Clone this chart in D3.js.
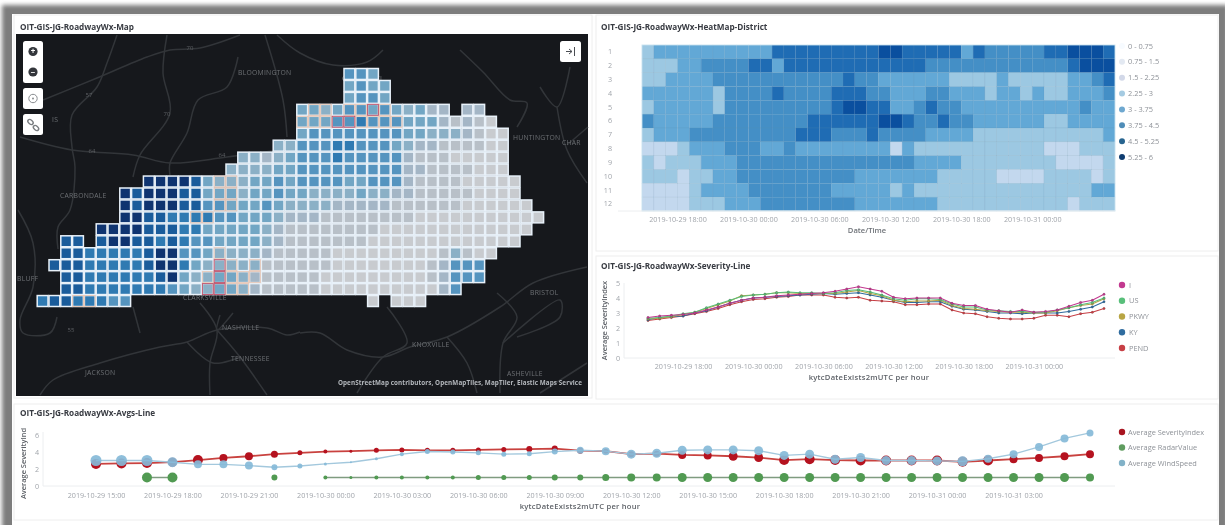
<!DOCTYPE html>
<html><head><meta charset="utf-8">
<script src="https://cdn.jsdelivr.net/npm/d3@7"></script>
<style>
html,body{margin:0;padding:0;background:#fff;overflow:hidden}
svg{display:block;filter:blur(0.75px)}
text{font-family:"Open Sans",sans-serif}
.tick line,.domain{display:none}
</style></head><body>
<svg id="c" width="1225" height="525"></svg>
<script>
// ---------- data ----------
const hours = 40;
const startTime = Date.UTC(2019, 9, 29, 15);
const panelTitles = ["OIT-GIS-JG-RoadwayWx-Map","OIT-GIS-JG-RoadwayWx-HeatMap-District","OIT-GIS-JG-RoadwayWx-Severity-Line","OIT-GIS-JG-RoadwayWx-Avgs-Line"];

// map grid: severity class per cell, first column of each row
const mapStart = [26,26,26,22,22,22,20,17,16,9,7,7,7,5,2,2,1,2,2,0];
const mapCells = [
"554","4544","4554",
"4434554543422.22",
"44455655544421210",
"455555555443332100",
"33555665554322111100",
"33234555655555211100000",
"333344555555555221111000",
"88887433344545555445552111100000",
"8788877444344544333343322111110000",
"87888775544454333322222111111000000",
"88776666554443222"+"1111111100000000000",
"8888777664444432"+"111111110000000000000",
"77.7887767655444432"+"11111110000000000000",
"7766666788554333321"+"11110000000001"+"3100",
"77766666788643333311"+"11110000000012"+"555",
"7766666678433443211"+"11100000000012"+"555",
"7766666665433443211"+"11100000000002"+"5",
"67766655....................0.000"
];
// extra outlined cells over the map: [col,row,level]
const hotCells = [[28,3,2],[25,4,2],[26,4,2],[27,3,1],[23,3,1],[24,4,1],[22,4,1],[23,4,1],[27,4,1],[28,4,1],[29,4,1],[30,4,1],[24,3,1],[26,3,1],[29,3,1],
[15,15,1],[15,16,2],[15,17,2],[14,18,2],[15,18,2],[16,18,1],[17,17,1],[17,18,1],[14,17,1],[16,16,1],[16,17,1],[18,16,1],[18,17,1],
[15,9,1],[16,9,1],[15,10,1],[16,10,1],[15,11,1],[16,11,1],[13,12,1],[14,12,1],[3,19,1],[4,19,1]];
const mapColors = ["#c8cbcf","#b8c0c8","#a4b6c6","#8bb0c6","#72a6c4","#5594bf","#2f7ab2","#1a5c9b","#0f3470"];

const roads = [
[[27,66],[81,44],[131,23],[154,16],[184,14],[224,1]],
[[101,1],[91,29],[81,53],[56,81],[56,113],[59,133],[54,176],[42,193],[42,215]],
[[4,103],[56,116],[117,121],[154,129],[211,123],[264,116]],
[[151,1],[147,39],[154,79],[124,121],[117,143]],
[[222,23],[211,53],[182,66],[171,99],[154,129],[154,141]],
[[249,1],[267,66],[271,103]],
[[261,1],[284,19],[317,31],[351,28],[367,16]],
[[444,16],[467,38],[494,66],[511,69],[501,93]],
[[524,53],[541,73],[554,33]],
[[541,73],[551,116],[571,149]],
[[551,111],[572,93]],
[[24,361],[37,346],[84,329],[144,313],[171,308],[201,296],[251,294],[271,301],[284,298]],
[[184,269],[201,296],[194,329],[194,361]],
[[201,296],[224,323],[251,361]],
[[171,308],[197,329],[224,323]],
[[204,281],[201,296],[217,279]],
[[2,176],[17,209],[17,253],[4,286],[7,299],[34,299],[41,283]],
[[117,273],[124,299]],
[[284,299],[304,299],[331,316],[367,323],[394,313],[431,303],[484,273],[517,249],[571,233]],
[[371,273],[391,309],[367,323],[341,359]],
[[431,303],[451,329],[461,359]],
[[481,259],[501,283],[487,309],[484,359]],
[[501,303],[544,283],[544,266],[487,309]],
[[524,359],[571,329]]
];
const placeNames = ["BLOOMINGTON","CINCINNATI","HUNTINGTON","CHAR","CARBONDALE","CLARKSVILLE","NASHVILLE","TENNESSEE","JACKSON","KNOXVILLE","BRISTOL","ASHEVILLE","BLUFF","IS"];
const placeAt = [[222,41],[326,47],[497,106],[546,111],[44,164],[167,266],[206,296],[215,327],[69,341],[396,313],[514,261],[491,342],[1,247],[36,88]];
const roadNames = ["70","57","70","64","64","55"];
const roadNameAt = [[174,16],[73,63],[151,82],[76,119],[206,123],[55,298]];
const attribution = "OpenStreetMap contributors, OpenMapTiles, MapTiler, Elastic Maps Service";

// heat map: severity bin per row and hour
const heatRows = [
"3 4444444444 666666666 77 66666 4 6 55555 66 777 6",
"333 44 5555 66 4 666666666666 555555555555 6 777",
"33 4444 55555555555 6 55 444444 3333 4 33333 44 5 6",
"444444 3 5555 6 5555 666 55 444 55 444 3 44 3 4 33 444 5",
"3 44444 3 555555555 6 77 66 44 5 6 55 4444444444 5 44",
"5 44444 55555555 666666 77 6 55 6 55 444444 33 4444",
"3 444 555555555 666 555 6 5555 4444 33333333333 4",
"222 3 444 555 44 5 44444444 2 4 33333333333 222 333",
"3 2 333 444 555555555555555 4444 33333333 2222 3",
"333 2 33 44 5555555555 4444444 33333 2222 3333 2 3",
"2222 3 4444 5555555 44444 3 4 333333333333333 44",
"2222 333 444 55555555 4444444 33333333333 2 333"
];
const heatLabels = ["1","2","3","4","5","6","7","8","9","10","11","12"];
const heatColors = ["#f7fbff","#dfeaf6","#c3d8ee","#9cc8e2","#62a8d6","#448fc6","#1f6cb4","#0a4f9f"];
const heatLegend = ["0 - 0.75","0.75 - 1.5","1.5 - 2.25","2.25 - 3","3 - 3.75","3.75 - 4.5","4.5 - 5.25","5.25 - 6"];
const heatLegendColors = ["#f7fbff","#e3e9f2","#d2d8e8","#a5cbe2","#6ea8d0","#4f8db8","#27648f","#0f3c70"];

// severity per road class
const sevNames = ["I","US","PKWY","KY","PEND"];
const sevColors = ["#c2398f","#58bf7a","#b8a544","#2f6c9f","#c73f45"];
const sevI = [2.7,2.8,2.85,2.9,3.0,3.2,3.4,3.65,3.85,4.0,4.05,4.15,4.2,4.25,4.3,4.35,4.45,4.6,4.75,4.6,4.45,4.05,3.95,4.0,4.0,4.0,3.65,3.5,3.5,3.25,3.15,3.05,3.2,3.05,3.1,3.2,3.45,3.7,3.85,4.25];
const sevUS = [2.65,2.7,2.8,2.95,3.05,3.35,3.6,3.85,4.1,4.2,4.25,4.35,4.4,4.35,4.35,4.3,4.35,4.5,4.55,4.4,4.2,3.95,3.85,3.95,3.95,3.9,3.6,3.4,3.4,3.2,3.15,3.1,3.1,3.05,3.05,3.2,3.35,3.55,3.7,4.0];
const sevPKWY = [2.6,2.65,2.75,2.9,3.05,3.3,3.55,3.8,4.15,4.2,4.25,4.35,4.35,4.3,4.3,4.3,4.3,4.4,4.5,4.3,4.15,3.85,3.75,3.8,3.8,3.85,3.5,3.3,3.25,3.15,3.1,3.05,3.05,3.0,3.0,3.15,3.35,3.5,3.6,3.95];
const sevKY = [2.55,2.7,2.75,2.8,3.0,3.15,3.4,3.65,3.85,4.0,4.05,4.1,4.15,4.2,4.25,4.3,4.25,4.3,4.35,4.2,4.05,3.85,3.7,3.7,3.75,3.75,3.45,3.25,3.2,3.1,3.0,3.0,2.95,3.0,3.0,3.0,3.1,3.25,3.4,3.75];
const sevPEND = [2.5,2.6,2.7,2.8,2.95,3.1,3.3,3.55,3.75,3.9,3.95,4.05,4.1,4.2,4.2,4.2,4.05,4.0,4.05,3.85,3.8,3.75,3.55,3.55,3.6,3.6,3.2,3.0,2.95,2.75,2.65,2.6,2.6,2.65,2.85,2.85,2.75,2.95,3.05,3.3];
const sevSeries = [sevPEND,sevKY,sevPKWY,sevUS,sevI];
const sevOrder = [4,3,2,1,0];
const sevTicks = [0,1,2,3,4,5];

// averages
const avgNames = ["Average SeverityIndex","Average RadarValue","Average WindSpeed"];
const avgColors = ["#b5121f","#519a52","#85bad8"];
const avgLegendColors = ["#a8141f","#5f9c5f","#82b2c8"];
const avgSeverity = [2.6,2.65,2.7,2.8,3.05,3.3,3.5,3.75,3.9,4.05,4.1,4.2,4.25,4.2,4.2,4.25,4.3,4.35,4.4,4.15,4.1,3.75,3.8,3.65,3.6,3.5,3.35,3.05,3.15,3.05,3.0,3.0,3.0,3.0,2.85,3.0,3.15,3.3,3.5,3.75];
const avgRadar = [null,null,1,1,null,null,null,1,null,1,1,1,1,1,1,1,1,1,1,1,1,1,1,1,1,1,1,1,1,1,1,1,1,1,1,1,1,1,1,1];
const avgWind = [3.0,3.0,3.0,2.8,2.55,2.55,2.4,2.2,2.35,2.6,2.8,3.2,3.75,4.05,4.0,3.9,3.75,3.8,4.05,4.2,4.1,3.75,3.85,4.2,4.25,4.25,4.15,3.6,3.75,3.15,3.35,3.0,3.0,2.95,2.9,3.2,3.75,4.6,5.6,6.25];
const sizeSeverity = [5,5,5,4.5,5,4,4,3.5,2.5,2,1.5,2.5,2.5,2.5,2.5,2.5,2.5,3,3,3,2.5,3,3,4,4,4.5,4.5,5,5,5,5,5,5,5,5,5,4,4,4,4];
const sizeRadar = [0,0,5,5,0,0,0,3,0,2,1.5,2,2,2,2,2.5,2.5,2.5,3,3,3.5,4,4,4.5,4.5,4.5,4.5,4.5,4.5,4.5,4.5,4.5,4.5,4.5,4.5,4.5,4.5,4.5,4.5,4];
const sizeWind = [5.5,5.5,5.5,5,4,4,4,3,2.5,1.5,1,1.5,2,2.5,2.5,2.5,2.5,2.5,3,3.5,4,4.5,4.5,4.5,4.5,4.5,4.5,4.5,4.5,4.5,4.5,4.5,4.5,4.5,5,4,4,4,4,3.5];
const avgTicks = [0,2,4,6];
const avgXLabelHours = [0,3,6,9,12,15,18,21,24,27,30,33,36];
const sixHourTicks = [3,9,15,21,27,33];

// ---------- drawing ----------
const svg = d3.select("#c");
const defs = svg.append("defs");
defs.append("filter").attr("id","soft").attr("x","-5%").attr("y","-5%").attr("width","110%").attr("height","110%")
  .append("feGaussianBlur").attr("stdDeviation",2.2);
const hourT = h => new Date(startTime + h*3600e3);
const fmt = d3.utcFormat("%Y-%m-%d %H:%M");
const tickGrey = "#a1a5ab", axisGrey = "#eceef0";

// frame and panels
svg.append("rect").attr("x",2).attr("y",5).attr("width",1226).attr("height",560).attr("fill","#7d7d7d").attr("filter","url(#soft)");
svg.append("rect").attr("x",12).attr("y",14).attr("width",1207).attr("height",511).attr("fill","#fff");
const panels = [[14,15,578,383],[596,15,622,236],[596,256,622,143],[14,404,1204,116]];
svg.selectAll(".panel").data(panels).join("rect").attr("x",d=>d[0]).attr("y",d=>d[1]).attr("width",d=>d[2]).attr("height",d=>d[3]).attr("fill","#fff").attr("stroke","#eeeeee");
const titleAt = [[20,30],[601,30],[601,269],[20,416]];
svg.selectAll(".ttl").data(panelTitles).join("text").attr("x",(d,i)=>titleAt[i][0]).attr("y",(d,i)=>titleAt[i][1])
  .attr("font-size",8.2).attr("font-weight",700).attr("fill","#383b42").text(d=>d);

// ---- map ----
const mapG = svg.append("g");
const mx = d3.scaleLinear().domain([0,572]).range([16,588]);
const my = d3.scaleLinear().domain([0,362]).range([34,396]);
mapG.append("rect").attr("x",mx(0)).attr("y",my(0)).attr("width",mx(572)-mx(0)).attr("height",my(362)-my(0)).attr("fill","#16181c");
const roadLine = d3.line().x(d=>mx(d[0])).y(d=>my(d[1])).curve(d3.curveCatmullRom.alpha(0.5));
mapG.selectAll(".road").data(roads).join("path").attr("d",roadLine).attr("fill","none").attr("stroke","#323539").attr("stroke-width",1.5);
mapG.selectAll(".place").data(placeNames).join("text").attr("x",(d,i)=>mx(placeAt[i][0])).attr("y",(d,i)=>my(placeAt[i][1]))
  .attr("font-size",6.8).attr("letter-spacing",.25).attr("fill","#6d7074").text(d=>d);
mapG.selectAll(".rn").data(roadNames).join("text").attr("x",(d,i)=>mx(roadNameAt[i][0])).attr("y",(d,i)=>my(roadNameAt[i][1]))
  .attr("font-size",6).attr("fill","#5c5f63").attr("text-anchor","middle").text(d=>d);

const cx = d3.scaleLinear().domain([0,1]).range([36.7,48.5]);
const cy = d3.scaleLinear().domain([0,1]).range([68,79.95]);
const cellData = [];
mapCells.forEach((s,r)=>{ Array.from(s).forEach((ch,i)=>{ if(ch!=="." ) cellData.push({r,c:mapStart[r]+i,v:+ch}); }); });
mapG.selectAll(".cell").data(cellData).join("rect")
  .attr("x",d=>cx(d.c)+.5).attr("y",d=>cy(d.r)+.5).attr("width",10.8).attr("height",10.95)
  .attr("fill",d=>mapColors[d.v]).attr("stroke","#e8f1f9").attr("stroke-width",1.5);
mapG.selectAll(".hot").data(hotCells.slice().sort((a,b)=>a[2]-b[2])).join("rect")
  .attr("x",d=>cx(d[0])+.5).attr("y",d=>cy(d[1])+.5).attr("width",10.8).attr("height",10.95).attr("fill","none")
  .attr("stroke",d=>d[2]===2?"#b73a55":"#e8a27a").attr("stroke-width",1).attr("stroke-opacity",d=>d[2]===2?.85:.5);

// controls
const ctl = mapG.append("g");
[[23,41,20,42],[23,88,20,21],[23,114,20,21],[560,41,21,21]].forEach(b=>{
  ctl.append("rect").attr("x",b[0]).attr("y",b[1]).attr("width",b[2]).attr("height",b[3]).attr("rx",2.5).attr("fill","#fff");
});
[[33,51.5,"+"],[33,72,"−"]].forEach(b=>{
  ctl.append("circle").attr("cx",b[0]).attr("cy",b[1]).attr("r",4.6).attr("fill","#33363b");
  ctl.append("text").attr("x",b[0]).attr("y",b[1]+2.6).attr("text-anchor","middle").attr("font-size",8).attr("font-weight",700).attr("fill","#fff").text(b[2]);
});
ctl.append("circle").attr("cx",33).attr("cy",98.5).attr("r",4.2).attr("fill","none").attr("stroke","#8a8d91").attr("stroke-width",1);
ctl.append("circle").attr("cx",33).attr("cy",98.5).attr("r",1).attr("fill","#8a8d91");
ctl.append("ellipse").attr("cx",30.5).attr("cy",122).attr("rx",3).attr("ry",2).attr("fill","none").attr("stroke","#7a7d81").attr("stroke-width",1.4).attr("transform","rotate(40 30.5 122)");
ctl.append("ellipse").attr("cx",36).attr("cy",128).attr("rx",3).attr("ry",2).attr("fill","none").attr("stroke","#7a7d81").attr("stroke-width",1.4).attr("transform","rotate(40 36 128)");
ctl.append("path").attr("d","M566 51.5h6M569 49l3 2.5-3 2.5M574.5 47v9").attr("fill","none").attr("stroke","#4a4d52").attr("stroke-width",1);
mapG.append("text").attr("x",mx(566)).attr("y",my(351)).attr("text-anchor","end").attr("font-size",6.3).attr("font-weight",700).attr("fill","#b4b8bd").attr("letter-spacing",.1).text(attribution);

// ---- heat map ----
const heatG = svg.append("g");
const hx = d3.scaleUtc().domain([hourT(0),hourT(hours)]).range([642,1115]);
const hy = d3.scaleBand().domain(heatLabels).range([45,211]);
const heatData = [];
heatRows.forEach((s,r)=>{ Array.from(s.replace(/ /g,"")).forEach((ch,h)=>heatData.push({r:heatLabels[r],h,v:+ch})); });
heatG.selectAll(".h").data(heatData).join("rect")
  .attr("x",d=>hx(hourT(d.h))).attr("y",d=>hy(d.r)).attr("width",d=>hx(hourT(d.h+1))-hx(hourT(d.h))).attr("height",hy.bandwidth())
  .attr("fill",d=>heatColors[d.v]).attr("stroke","#5f8fb5").attr("stroke-opacity",.25).attr("stroke-width",.5);
heatG.append("rect").attr("x",642).attr("y",45).attr("width",473).attr("height",166).attr("fill","none").attr("stroke","#cfe8f5").attr("stroke-width",.8);
heatG.append("line").attr("x1",618).attr("x2",1115).attr("y1",211).attr("y2",211).attr("stroke",axisGrey);
const axH = heatG.append("g").attr("transform","translate(0,211)").call(d3.axisBottom(hx).tickValues(sixHourTicks.map(hourT)).tickFormat(fmt).tickSize(0).tickPadding(6));
axH.selectAll("text").attr("font-size",7.2).attr("fill",tickGrey);
const ayH = heatG.append("g").attr("transform","translate(612,0)").call(d3.axisLeft(hy).tickSize(0).tickPadding(0));
ayH.selectAll("text").attr("font-size",7.2).attr("fill",tickGrey);
heatG.append("text").attr("x",867).attr("y",233).attr("text-anchor","middle").attr("font-size",7.6).attr("font-weight",600).attr("fill","#6e7278").text("Date/Time");
const hl = d3.scaleLinear().domain([0,7]).range([46,157]);
heatG.selectAll(".ld").data(heatLegend).join("circle").attr("cx",1122).attr("cy",(d,i)=>hl(i)).attr("r",3).attr("fill",(d,i)=>heatLegendColors[i]);
heatG.selectAll(".lt").data(heatLegend).join("text").attr("x",1128).attr("y",(d,i)=>hl(i)+2.6).attr("font-size",7.4).attr("fill","#8e9298").text(d=>d);

// ---- severity lines ----
const sevG = svg.append("g");
const sx = d3.scaleUtc().domain([hourT(0),hourT(39)]).range([648,1104]);
const sy = d3.scaleLinear().domain([0,5]).range([358,283]);
sevG.append("line").attr("x1",624).attr("x2",1115).attr("y1",358).attr("y2",358).attr("stroke",axisGrey);
sevG.append("line").attr("x1",624).attr("x2",624).attr("y1",283).attr("y2",358).attr("stroke",axisGrey);
const axS = sevG.append("g").attr("transform","translate(0,358)").call(d3.axisBottom(sx).tickValues(sixHourTicks.map(hourT)).tickFormat(fmt).tickSize(0).tickPadding(6));
axS.selectAll("text").attr("font-size",7.2).attr("fill",tickGrey);
const ayS = sevG.append("g").attr("transform","translate(620,0)").call(d3.axisLeft(sy).tickValues(sevTicks).tickFormat(d3.format("d")).tickSize(0).tickPadding(0));
ayS.selectAll("text").attr("font-size",7.2).attr("fill",tickGrey);
const sevLine = d3.line().x((d,i)=>sx(hourT(i))).y(d=>sy(d));
sevSeries.forEach((vals,k)=>{
  const col = sevColors[sevOrder[k]];
  sevG.append("path").attr("d",sevLine(vals)).attr("fill","none").attr("stroke",col).attr("stroke-width",1.1);
  sevG.selectAll(".s"+k).data(vals).join("circle").attr("cx",(d,i)=>sx(hourT(i))).attr("cy",d=>sy(d)).attr("r",1.2).attr("fill",col).attr("stroke","#333").attr("stroke-opacity",.35).attr("stroke-width",.5);
});
sevG.append("text").attr("transform","translate(607,320.5) rotate(-90)").attr("text-anchor","middle").attr("font-size",7.4).attr("font-weight",600).attr("fill","#5e6268").text("Average SeverityIndex");
sevG.append("text").attr("x",869).attr("y",380).attr("text-anchor","middle").attr("font-size",7.6).attr("font-weight",600).attr("letter-spacing",.25).attr("fill","#5e6268").text("kytcDateExists2mUTC per hour");
const sl = d3.scaleLinear().domain([0,4]).range([285,348]);
sevG.selectAll(".ld").data(sevNames).join("circle").attr("cx",1122).attr("cy",(d,i)=>sl(i)).attr("r",3.2).attr("fill",(d,i)=>sevColors[i]);
sevG.selectAll(".lt").data(sevNames).join("text").attr("x",1129).attr("y",(d,i)=>sl(i)+2.6).attr("font-size",7.4).attr("fill","#8e9298").text(d=>d);

// ---- averages ----
const avgG = svg.append("g");
const ax = d3.scaleUtc().domain([hourT(0),hourT(39)]).range([96,1090]);
const ay = d3.scaleLinear().domain([0,6]).range([486,435]);
avgG.append("line").attr("x1",43).attr("x2",1115).attr("y1",486).attr("y2",486).attr("stroke",axisGrey);
avgG.append("line").attr("x1",43).attr("x2",43).attr("y1",432).attr("y2",486).attr("stroke",axisGrey);
const axA = avgG.append("g").attr("transform","translate(0,486)").call(d3.axisBottom(ax).tickValues(avgXLabelHours.map(hourT)).tickFormat(fmt).tickSize(0).tickPadding(7));
axA.selectAll("text").attr("font-size",7.2).attr("fill",tickGrey);
const ayA = avgG.append("g").attr("transform","translate(39,0)").call(d3.axisLeft(ay).tickValues(avgTicks).tickFormat(d3.format("d")).tickSize(0).tickPadding(0));
ayA.selectAll("text").attr("font-size",7.2).attr("fill",tickGrey);
const avgLine = d3.line().defined(d=>d!==null).x((d,i)=>ax(hourT(i))).y(d=>ay(d));
[[avgRadar,sizeRadar,1,"#7f9c80",1.6],[avgSeverity,sizeSeverity,0,"#c9423f",1.8],[avgWind,sizeWind,2,"#a3c8dd",1.4]].forEach(([vals,sz,k,lc,w])=>{
  avgG.append("path").attr("d",avgLine(vals)).attr("fill","none").attr("stroke",lc).attr("stroke-width",w);
  avgG.selectAll(".a"+k).data(vals.map((v,i)=>({v,i})).filter(d=>d.v!==null)).join("circle")
    .attr("cx",d=>ax(hourT(d.i))).attr("cy",d=>ay(d.v)).attr("r",d=>sz[d.i]).attr("fill",avgColors[k]).attr("fill-opacity",k===2?.92:1);
});
avgG.append("text").attr("transform","translate(26,463.5) rotate(-90)").attr("text-anchor","middle").attr("font-size",7.4).attr("font-weight",600).attr("fill","#5e6268").text("Average SeverityInd");
avgG.append("text").attr("x",580).attr("y",509).attr("text-anchor","middle").attr("font-size",7.6).attr("font-weight",600).attr("letter-spacing",.25).attr("fill","#5e6268").text("kytcDateExists2mUTC per hour");
const al = d3.scaleLinear().domain([0,2]).range([432,463]);
avgG.selectAll(".ld").data(avgNames).join("circle").attr("cx",1122).attr("cy",(d,i)=>al(i)).attr("r",3.2).attr("fill",(d,i)=>avgLegendColors[i]);
avgG.selectAll(".lt").data(avgNames).join("text").attr("x",1128).attr("y",(d,i)=>al(i)+2.6).attr("font-size",7.4).attr("fill","#8e9298").text(d=>d);
</script>
</body></html>
